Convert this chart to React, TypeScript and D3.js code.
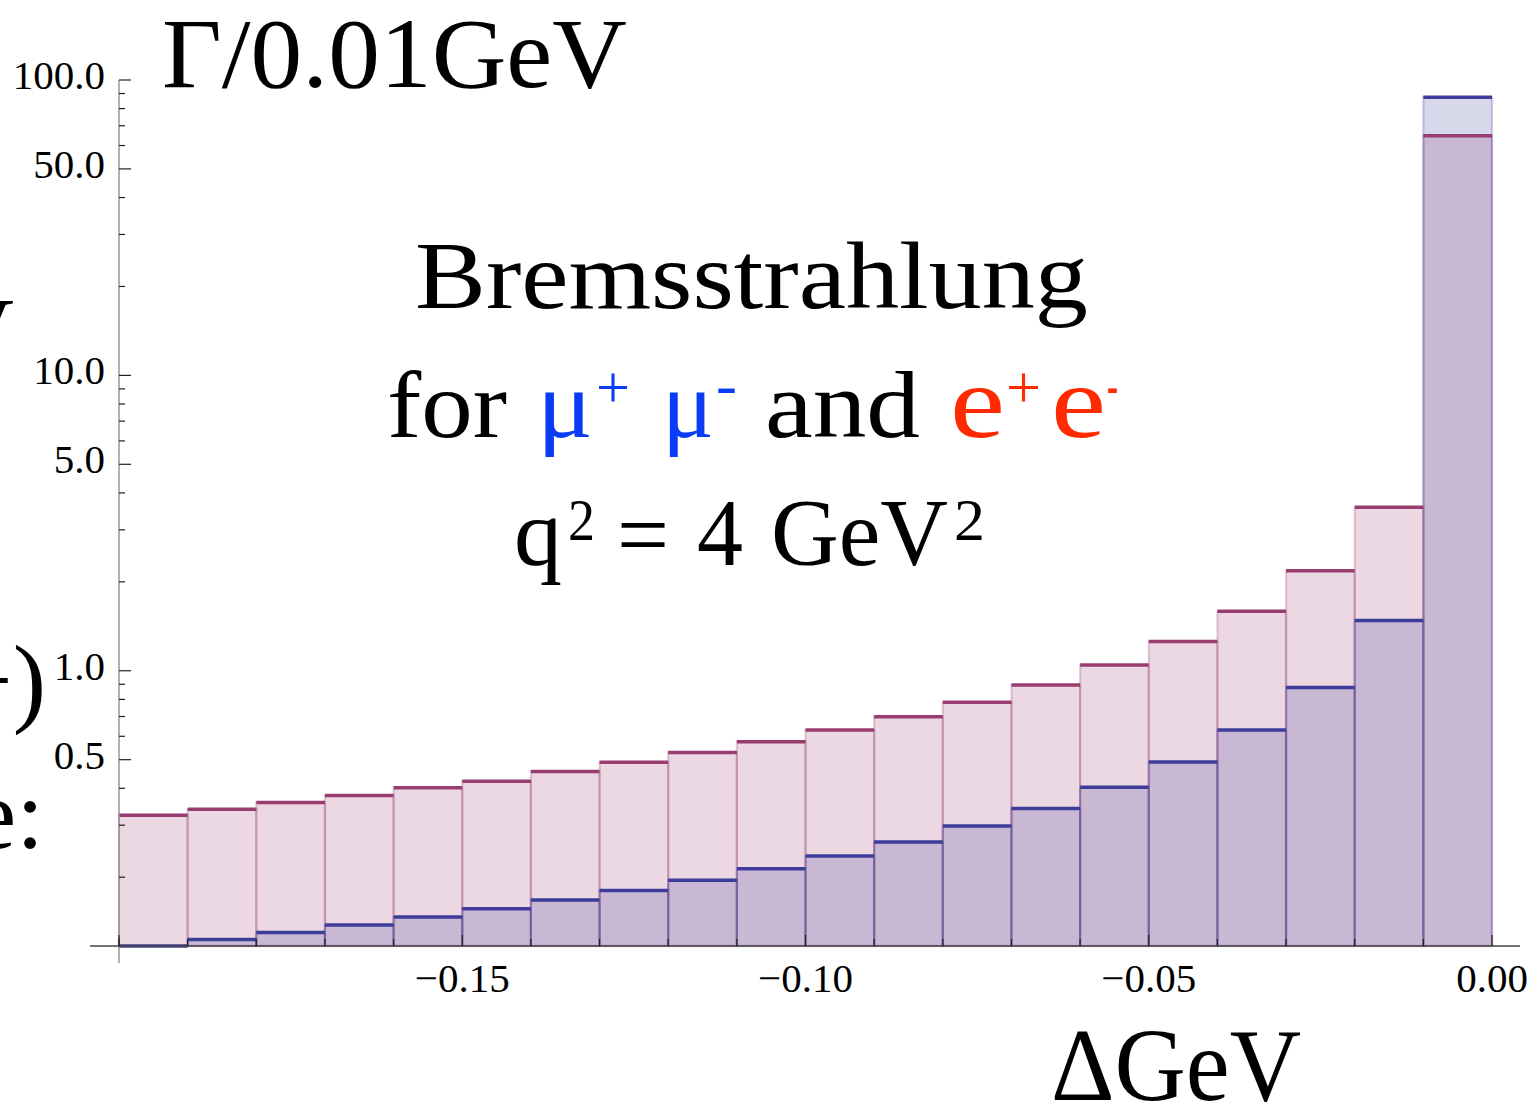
import React from "react";
import * as d3 from "d3";

// Histogram bin lower edges (GeV), bin width 0.01
const binStarts = [-0.2, -0.19, -0.18, -0.17, -0.16, -0.15, -0.14, -0.13, -0.12, -0.11,
  -0.1, -0.09, -0.08, -0.07, -0.06, -0.05, -0.04, -0.03, -0.02, -0.01];
const binWidth = 0.01;

// e+ e- (red series)
const eeValues = [0.3245, 0.34, 0.358, 0.378, 0.402, 0.423, 0.456, 0.49, 0.529, 0.575,
  0.63, 0.699, 0.783, 0.895, 1.045, 1.257, 1.589, 2.18, 3.575, 64.8];
// mu+ mu- (blue series)
const mumuValues = [0.117, 0.123, 0.13, 0.1377, 0.1466, 0.1564, 0.1675, 0.1805, 0.1955, 0.2136,
  0.236, 0.263, 0.298, 0.342, 0.403, 0.491, 0.63, 0.878, 1.481, 87.4];

const xMajorTicks = [-0.15, -0.1, -0.05, 0.0];
const xMajorTickLabels = ["\u22120.15", "\u22120.10", "\u22120.05", "0.00"];
const xMinorTicks = [-0.2, -0.19, -0.18, -0.17, -0.16, -0.14, -0.13, -0.12, -0.11, -0.09,
  -0.08, -0.07, -0.06, -0.04, -0.03, -0.02, -0.01];
const yMajorTicks = [100, 50, 10, 5, 1, 0.5];
const yMajorTickLabels = ["100.0", "50.0", "10.0", "5.0", "1.0", "0.5"];
const yMinorTicks = [90, 80, 70, 60, 40, 30, 20, 9, 8, 7, 6, 4, 3, 2, 0.9, 0.8, 0.7, 0.6, 0.4, 0.3, 0.2];

const RED = "#993d71";
const BLUE = "#3d3d99";
const FONT = "'Liberation Serif', 'Times New Roman', serif";

export default function App() {
  const x = d3.scaleLinear().domain([-0.2, 0]).range([119, 1492]);
  const y = d3.scaleLog().domain([0.117, 100]).range([946, 80]);
  const y0 = 946;

  const series = [
    { values: eeValues, color: RED },
    { values: mumuValues, color: BLUE },
  ];

  return (
    <svg
      width={1534}
      height={1103}
      style={{ position: "absolute", left: 0, top: 0, background: "#fff" }}
      fontFamily={FONT}
    >
      {/* fills */}
      {series.map((s, si) => (
        <g key={"f" + si}>
          {s.values.map((v, i) => {
            const x0 = x(binStarts[i]);
            const x1 = x(binStarts[i] + binWidth);
            const yt = Math.min(y(v), y0);
            return (
              <rect
                key={i}
                x={x0}
                y={yt}
                width={x1 - x0}
                height={y0 - yt}
                fill={s.color}
                fillOpacity={0.2}
                stroke={s.color}
                strokeOpacity={0.25}
                strokeWidth={2.2}
              />
            );
          })}
        </g>
      ))}
      {/* top edges */}
      {series.map((s, si) => (
        <g key={"t" + si}>
          {s.values.map((v, i) => {
            const x0 = x(binStarts[i]);
            const x1 = x(binStarts[i] + binWidth);
            const yt = Math.min(y(v), y0);
            return (
              <line key={i} x1={x0} x2={x1} y1={yt} y2={yt} stroke={s.color} strokeWidth={3.5} />
            );
          })}
        </g>
      ))}

      {/* axes */}
      <line x1={119} x2={119} y1={80} y2={963} stroke="#888" strokeWidth={1.3} />
      <line x1={90} x2={1520} y1={946} y2={946} stroke="#444" strokeWidth={1.3} />
      {yMajorTicks.map((t, i) => (
        <g key={"ym" + i}>
          <line x1={119} x2={131} y1={y(t)} y2={y(t)} stroke="#222" strokeWidth={1.2} />
          <text x={105} y={y(t) + 9} fontSize={41} textAnchor="end" fill="#000">
            {yMajorTickLabels[i]}
          </text>
        </g>
      ))}
      {yMinorTicks.map((t, i) => (
        <line key={"yn" + i} x1={119} x2={125} y1={y(t)} y2={y(t)} stroke="#222" strokeWidth={1.2} />
      ))}
      <line x1={x(-0.2)} x2={x(-0.2)} y1={946} y2={935} stroke="#222" strokeWidth={1.2} />
      {xMajorTicks.map((t, i) => (
        <g key={"xm" + i}>
          <line x1={x(t)} x2={x(t)} y1={946} y2={935} stroke="#222" strokeWidth={1.2} />
          <text x={x(t)} y={992} fontSize={41} textAnchor="middle" fill="#000">
            {xMajorTickLabels[i]}
          </text>
        </g>
      ))}
      {xMinorTicks.map((t, i) => (
        <line key={"xn" + i} x1={x(t)} x2={x(t)} y1={946} y2={939} stroke="#222" strokeWidth={1.2} />
      ))}

      {/* axis labels */}
      <text x={162} y={87} fontSize={100} textLength={465} lengthAdjust="spacingAndGlyphs">
        Γ/0.01GeV
      </text>
      <text x={1051} y={1100} fontSize={103} textLength={250} lengthAdjust="spacingAndGlyphs">
        ΔGeV
      </text>

      {/* annotation */}
      <text x={415} y={308} fontSize={96} textLength={673} lengthAdjust="spacingAndGlyphs">
        Bremsstrahlung
      </text>
      <g fontSize={96}>
        <text x={387} y={437} textLength={120} lengthAdjust="spacingAndGlyphs">for</text>
        <text x={537} y={437} fill="#0a3cf5" textLength={56} lengthAdjust="spacingAndGlyphs">μ</text>
        <text x={596} y={407} fontSize={60} fill="#0a3cf5" textLength={34} lengthAdjust="spacingAndGlyphs">+</text>
        <text x={662} y={437} fill="#0a3cf5" textLength={52} lengthAdjust="spacingAndGlyphs">μ</text>
        <text x={716} y={405} fontSize={60} fill="#0a3cf5" textLength={21} lengthAdjust="spacingAndGlyphs">-</text>
        <text x={765} y={437} textLength={155} lengthAdjust="spacingAndGlyphs">and</text>
        <text x={950} y={437} fontSize={104} fill="#ff2a00" textLength={55} lengthAdjust="spacingAndGlyphs">e</text>
        <text x={1006} y={407} fontSize={60} fill="#ff2a00" textLength={35} lengthAdjust="spacingAndGlyphs">+</text>
        <text x={1051} y={437} fontSize={104} fill="#ff2a00" textLength={55} lengthAdjust="spacingAndGlyphs">e</text>
        <text x={1107} y={405} fontSize={60} fill="#ff2a00" textLength={11} lengthAdjust="spacingAndGlyphs">-</text>
      </g>
      <g fontSize={96}>
        <text x={514} y={565}>q</text>
        <text x={568} y={540} fontSize={60} textLength={27} lengthAdjust="spacingAndGlyphs">2</text>
        <text x={617} y={567} textLength={52} lengthAdjust="spacingAndGlyphs">=</text>
        <text x={697} y={565} textLength={46} lengthAdjust="spacingAndGlyphs">4</text>
        <text x={771} y={565} textLength={177} lengthAdjust="spacingAndGlyphs">GeV</text>
        <text x={954} y={540} fontSize={60} textLength={31} lengthAdjust="spacingAndGlyphs">2</text>
      </g>

      {/* clipped fragments at the left edge */}
      <text x={14} y={366} fontSize={100} textAnchor="end">V</text>
      <text x={46} y={714} fontSize={100} textAnchor="end">−)</text>
      <text x={44} y={848} fontSize={100} textAnchor="end">e:</text>
    </svg>
  );
}
